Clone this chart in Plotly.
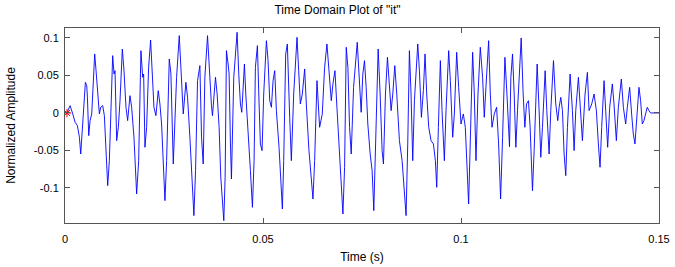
import plotly.graph_objects as go

# Time in milliseconds
t_ms = [0.45, 1.29, 1.96, 2.55, 3.13, 3.64, 3.97, 4.31, 4.82, 5.15, 5.49, 5.66, 5.99, 6.33, 6.75,
        7.50, 7.84, 8.18, 8.68, 9.02, 9.52, 9.94, 10.78, 11.20, 12.04, 12.38, 12.63, 13.05, 13.47,
        13.89, 14.48, 14.90, 15.40, 15.82, 16.41, 16.83, 17.42, 18.09, 18.60, 19.18, 19.61, 19.86,
        20.19, 20.61, 21.12, 21.62, 21.96, 22.46, 22.96, 23.55, 23.97, 24.39, 25.24, 25.66, 26.33,
        26.75, 27.34, 28.18, 28.85, 29.44, 29.86, 30.53, 30.95, 31.54, 32.55, 32.97, 33.47, 34.06,
        34.48, 34.90, 35.32, 35.99, 36.41,
        36.99, 37.24, 37.58, 38.00, 38.42, 38.92, 39.34, 40.10, 40.44, 40.77, 41.19, 41.44, 41.78,
        42.03, 42.62, 43.46, 43.88, 44.30, 44.64, 44.97, 45.31, 45.65, 46.23, 46.82, 47.33, 47.75,
        48.08, 48.59, 49.01, 49.34, 49.76, 50.18, 50.86, 51.28, 51.70, 52.12, 52.54, 52.96, 53.38,
        54.05, 54.89, 55.23, 55.73, 56.15, 56.74, 57.16, 57.75, 58.59, 59.01, 59.43, 59.93, 60.52,
        60.94, 61.61, 62.62, 63.04, 63.63, 64.30, 64.97, 65.56, 66.15, 66.65, 67.24, 67.66, 68.17,
        68.67, 69.34, 70.18, 70.60, 71.02, 71.44, 71.86, 72.28, 72.87, 73.80, 74.22,
        74.79, 75.21, 75.63, 76.05, 76.47, 77.06, 77.56, 77.98, 78.32, 78.74, 79.08, 79.58, 80.08,
        80.42, 80.92, 81.43, 81.93, 82.35, 82.77, 83.28, 83.78, 84.45, 85.13, 86.13, 86.55, 86.97,
        87.39, 87.81, 88.24, 89.08, 89.50, 90.00, 90.50, 90.92, 91.34, 91.85, 92.44, 93.03, 93.53,
        93.87, 94.29, 94.79, 95.21, 95.80, 96.22, 96.89, 97.31, 97.90, 98.32, 98.91, 99.41, 100.00,
        100.59, 101.09, 101.93, 102.35, 102.94, 103.36, 103.78, 104.29, 104.87, 105.46, 105.88,
        106.30, 106.98, 107.40, 107.82, 108.40, 108.99, 109.50, 110.00, 110.50, 111.09, 111.60,
        112.25,
        112.59, 113.01, 113.43, 113.85, 114.27, 115.20, 115.70, 116.12, 116.54, 117.04, 117.46,
        117.80, 118.05, 118.47, 119.23, 119.73, 120.15, 120.57, 121.25, 121.67, 122.25, 122.67,
        123.35, 123.93, 124.44, 124.78, 125.20, 125.62, 126.04, 126.46, 126.88, 127.55, 128.14,
        128.56, 128.98, 129.65, 130.24, 130.66, 131.33, 131.92, 132.34, 133.01, 133.60, 134.19,
        134.69, 135.11, 135.53, 136.12, 136.54, 137.04, 137.55, 138.22, 138.64, 139.23, 139.73,
        140.49, 141.00, 141.58, 142.00, 142.59, 143.09, 143.51, 143.93, 144.44, 144.94, 145.36,
        145.78, 146.20, 146.62, 147.04, 147.46, 147.88, 150.00]

amplitude = [0.0, 0.0098, -0.0013, -0.0124, -0.0169, -0.0324, -0.0547, -0.0236, 0.0142, 0.0409,
             0.0364, 0.0209, -0.0302, -0.0102, -0.0013, 0.0787, 0.0564, 0.0298, -0.0013, 0.0076,
             0.0098, -0.0036, -0.0969, -0.0636, 0.0764, 0.052, 0.0564, -0.0369, -0.0191, 0.0164,
             0.0853, 0.0564, 0.0076, -0.0102, 0.0231, 0.0076, -0.0324, -0.108, -0.0636, 0.0831,
             0.0476, 0.052, -0.0458, -0.0191, 0.0609, 0.0973, 0.0564, 0.0076, -0.0036, 0.0298,
             0.012, -0.0147, -0.1169, -0.0636, 0.072, 0.052, -0.068, 0.0476, 0.1031, 0.0476,
             -0.0013, 0.0409, 0.0209, -0.0324, -0.1369, -0.0769, 0.0431, 0.0631, -0.0324, -0.068,
             0.0476, 0.1031, 0.0564,
             0.0098, -0.0036, 0.0209, 0.0476, 0.0253, -0.0191, -0.0858, -0.1436, -0.0858, 0.0831,
             0.0653, 0.052, -0.0413, -0.088, 0.0476, 0.1076, 0.052, 0.012, 0.0009, 0.0387, 0.0653,
             0.0253, -0.0191, -0.0769, -0.1258, -0.0636, 0.0609, 0.0898, 0.012, -0.0413, -0.0502,
             0.0253, 0.0964, 0.0698, 0.0164, 0.0076, 0.0431, 0.0564, 0.0031, -0.0458, -0.128,
             -0.0636, 0.0787, 0.092, -0.0058, -0.0636, 0.0253, 0.1009, 0.0564, 0.012, 0.0253,
             0.0587, 0.012, -0.0502, -0.1147, -0.0636, 0.0431, -0.0191, -0.0013, 0.0609, 0.092,
             0.0609, 0.0164, 0.0387, 0.0564, 0.0076, -0.0547, -0.1347, -0.0724, 0.0876, 0.0609,
             -0.0191, -0.0547, 0.0342, 0.0942, 0.0564,
             0.0009, 0.052, 0.0698, 0.0342, -0.0147, -0.0547, -0.0769, -0.1302, -0.0636, 0.0298,
             0.0853, 0.0253, -0.0502, -0.068, 0.0253, 0.0742, 0.0387, 0.0031, 0.0253, 0.0631,
             0.0253, -0.0369, -0.0636, -0.1369, -0.0413, 0.0831, 0.0253, -0.0636, 0.0164, 0.092,
             0.0564, -0.0058, 0.0298, 0.0787, 0.0253, -0.0191, -0.0369, -0.0413, -0.0636, -0.0991,
             -0.0191, 0.0698, 0.0031, -0.0636, 0.0031, 0.0831, 0.0431, -0.0324, -0.0013, 0.0809,
             0.0342, -0.0147, -0.0013, -0.0191, -0.1213, -0.0191, 0.0809, 0.0253, -0.0636, 0.0253,
             0.0876, 0.0476, -0.0058, 0.0342, 0.0964, 0.0253, -0.0191, -0.0013, 0.0076, -0.0413,
             -0.1147, -0.0324, 0.0742, 0.0253,
             -0.045,
             0.0476, 0.0787, 0.0253, -0.0458, 0.0031, 0.100, 0.0253, -0.0191, 0.012, 0.0164,
             -0.0191, -0.0724, -0.1036, -0.0502, 0.0653, 0.0031, -0.0591, -0.0191, 0.0564, 0.0031,
             -0.0547, 0.0031, 0.0698, 0.012, -0.0102, 0.0076, 0.0209, 0.0031, -0.0547, -0.0836,
             -0.0191, 0.052, 0.0031, -0.0502, 0.0031, 0.0476, 0.0031, -0.0369, 0.0253, 0.0542,
             0.0031, 0.012, 0.0253, 0.0031, -0.0413, -0.0724, -0.0191, 0.0431, 0.0031, -0.0458,
             0.0076, 0.0387, 0.012, -0.0369, 0.0076, 0.0453, 0.0076, -0.0147, 0.0076, 0.0342,
             -0.0013, -0.028, -0.0413, -0.0013, 0.0342, 0.0164, -0.0147, -0.0102, -0.0013, 0.0076,
             0.0031, 0.0, 0.0]

time_s = [v / 1000.0 for v in t_ms]

marker_t = [0.0005]
marker_a = [0.0]

x_ticks = [0, 0.05, 0.1, 0.15]
x_tick_text = ["0", "0.05", "0.1", "0.15"]
y_ticks = [-0.1, -0.05, 0, 0.05, 0.1]
y_tick_text = ["-0.1", "-0.05", "0", "0.05", "0.1"]

FONT = "Liberation Sans, Arial"

fig = go.Figure()
fig.add_trace(go.Scatter(x=time_s, y=amplitude, mode="lines",
                         line=dict(color="#0000ff", width=0.9), showlegend=False,
                         hoverinfo="skip"))
fig.add_trace(go.Scatter(x=marker_t, y=marker_a, mode="markers",
                         marker=dict(symbol="asterisk-open", color="#ff0000", size=7,
                                     line=dict(color="#ff0000", width=1)),
                         showlegend=False))

axis_common = dict(showline=True, mirror="ticks", linecolor="#555555", linewidth=1,
                   ticks="inside", ticklen=5, tickcolor="#555555", showgrid=False,
                   zeroline=False, automargin=False,
                   tickfont=dict(family=FONT, size=11, color="#000000"))

fig.update_layout(
    width=675, height=267,
    margin=dict(l=65, r=16, t=28, b=44, autoexpand=False),
    paper_bgcolor="white", plot_bgcolor="white",
    title=dict(text='Time Domain Plot of "it"', x=0.5, xanchor="center",
               y=0.965, yanchor="middle", automargin=False,
               font=dict(family=FONT, size=12, color="#000000")),
    xaxis=dict(range=[0, 0.15], tickvals=x_ticks, ticktext=x_tick_text,
               ticklabelstandoff=6,
               title=dict(text="Time (s)", standoff=8,
                          font=dict(family=FONT, size=12, color="#000000")),
               **axis_common),
    yaxis=dict(range=[-0.1467, 0.1133], tickvals=y_ticks, ticktext=y_tick_text,
               ticklabelstandoff=3,
               title=dict(text="Normalized Amplitude",
                          font=dict(family=FONT, size=12, color="#000000")),
               **axis_common),
)

fig.write_html("out.html", config={"displayModeBar": False},
               post_script="document.body.style.margin='0';document.body.style.overflow='hidden';")
